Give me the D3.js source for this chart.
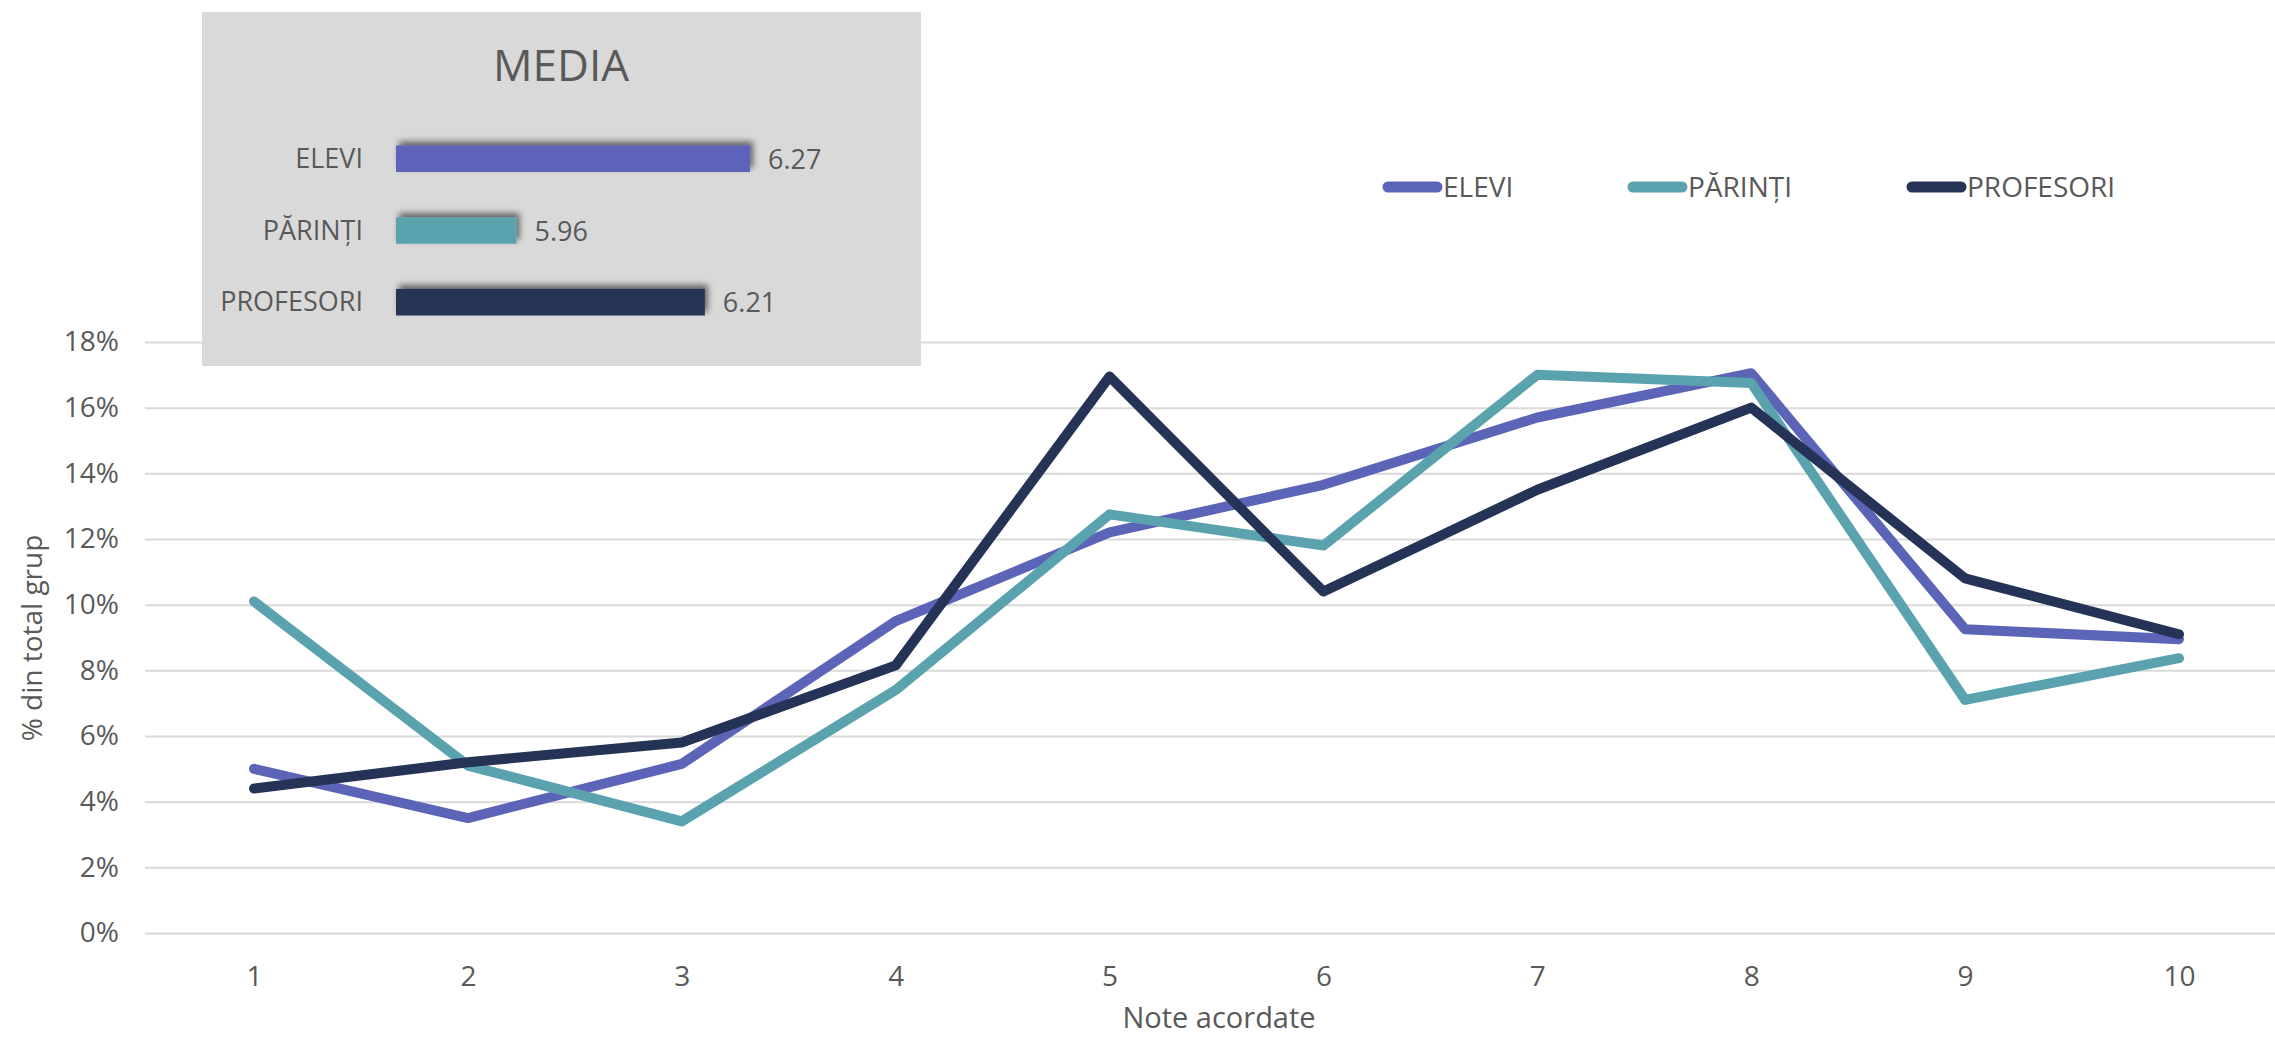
<!DOCTYPE html>
<html>
<head>
<meta charset="utf-8">
<script src="https://cdn.jsdelivr.net/npm/d3@7"></script>
<style>
  body { margin: 0; background: #fff; }
  text { font-family: "Open Sans", sans-serif; fill: #595959; }
</style>
</head>
<body>
<svg id="drawing_region"></svg>
<script>
// data
const note = ["1", "2", "3", "4", "5", "6", "7", "8", "9", "10"];
const elevi = [5.0, 3.5, 5.15, 9.5, 12.2, 13.65, 15.7, 17.05, 9.25, 8.95];
const parinti = [10.1, 5.1, 3.4, 7.4, 12.75, 11.8, 17.0, 16.75, 7.1, 8.37];
const profesori = [4.4, 5.2, 5.8, 8.15, 16.95, 10.4, 13.5, 16.0, 10.8, 9.1];
const seriesNames = ["ELEVI", "PĂRINȚI", "PROFESORI"];
const seriesColors = ["#5c64b8", "#5aa3ae", "#253456"];
const media = [6.27, 5.96, 6.21];
const yTicks = [0, 2, 4, 6, 8, 10, 12, 14, 16, 18];

const W = 2275, H = 1040;
const svg = d3.select('#drawing_region')
    .attr('width', W)
    .attr('height', H);

const defs = svg.append('defs');
const shadow = defs.append('filter').attr('id', 'shadow')
    .attr('x', '-10%').attr('y', '-60%').attr('width', '120%').attr('height', '220%');
shadow.append('feDropShadow')
    .attr('dx', 3).attr('dy', -4)
    .attr('stdDeviation', 3)
    .attr('flood-color', '#000')
    .attr('flood-opacity', 0.55);

// scales
const xscale = d3.scalePoint()
    .domain(note)
    .range([254, 2179]);
const yscale = d3.scaleLinear()
    .domain([0, 18])
    .range([933, 342]);

// y axis with gridlines
const yaxis = d3.axisLeft(yscale)
    .tickValues(yTicks)
    .tickFormat(d => d + '%')
    .tickSize(-(W - 145))
    .tickPadding(26);
const yaxis_group = svg.append('g')
    .attr('transform', 'translate(145,0)')
    .call(yaxis);
yaxis_group.select('.domain').remove();
yaxis_group.selectAll('line')
    .attr('stroke', '#d9d9d9')
    .attr('stroke-width', 2);
yaxis_group.selectAll('text')
    .style('font-size', '28px')
    .attr('font-family', null);

// x axis
const xaxis = d3.axisBottom(xscale)
    .tickSize(0)
    .tickPadding(33);
const xaxis_group = svg.append('g')
    .attr('transform', 'translate(0,933)')
    .call(xaxis);
xaxis_group.select('.domain').remove();
xaxis_group.selectAll('text')
    .style('font-size', '28px')
    .attr('font-family', null);

// axis titles
svg.append('text')
    .attr('transform', 'translate(42,638) rotate(-90)')
    .attr('text-anchor', 'middle')
    .style('font-size', '28px')
    .text('% din total grup');
svg.append('text')
    .attr('x', 1219)
    .attr('y', 1028)
    .attr('text-anchor', 'middle')
    .style('font-size', '29px')
    .text('Note acordate');

// lines
const allSeries = [elevi, parinti, profesori];
const line = d3.line()
    .x((d, i) => xscale(note[i]))
    .y(d => yscale(d));
svg.append('g').selectAll('path')
    .data(allSeries)
    .join('path')
    .attr('d', line)
    .attr('fill', 'none')
    .attr('stroke', (d, i) => seriesColors[i])
    .attr('stroke-width', 10)
    .attr('stroke-linecap', 'round')
    .attr('stroke-linejoin', 'round');

// legend
const legendX = [1383, 1628, 1907];
const legend = svg.append('g').selectAll('g')
    .data(seriesNames)
    .join('g')
    .attr('transform', (d, i) => `translate(${legendX[i]},187)`);
legend.append('line')
    .attr('x1', 5).attr('x2', 54)
    .attr('y1', 0).attr('y2', 0)
    .attr('stroke', (d, i) => seriesColors[i])
    .attr('stroke-width', 11)
    .attr('stroke-linecap', 'round');
legend.append('text')
    .attr('x', 60)
    .attr('y', 10)
    .style('font-size', '28px')
    .text(d => d);

// MEDIA box
const box = svg.append('g');
box.append('rect')
    .attr('x', 202).attr('y', 12)
    .attr('width', 719).attr('height', 354)
    .attr('fill', '#d9d9d9');
box.append('text')
    .attr('x', 561).attr('y', 81)
    .attr('text-anchor', 'middle')
    .style('font-size', '44px')
    .text('MEDIA');

const bxscale = d3.scaleLinear()
    .domain([5.8, 6.4])
    .range([396, 848]);
const byscale = d3.scaleBand()
    .domain(seriesNames)
    .range([124, 337])
    .paddingInner(0.63)
    .paddingOuter(0.3);

box.selectAll('rect.bar')
    .data(media)
    .join('rect')
    .attr('class', 'bar')
    .attr('x', bxscale(5.8))
    .attr('y', (d, i) => byscale(seriesNames[i]))
    .attr('width', d => bxscale(d) - bxscale(5.8))
    .attr('height', byscale.bandwidth())
    .attr('fill', (d, i) => seriesColors[i])
    .attr('filter', 'url(#shadow)');

box.selectAll('text.cat')
    .data(seriesNames)
    .join('text')
    .attr('class', 'cat')
    .attr('x', 363)
    .attr('y', d => byscale(d) + byscale.bandwidth() / 2 + 9)
    .attr('text-anchor', 'end')
    .style('font-size', '27px')
    .text(d => d);

box.selectAll('text.val')
    .data(media)
    .join('text')
    .attr('class', 'val')
    .attr('x', d => bxscale(d) + 18)
    .attr('y', (d, i) => byscale(seriesNames[i]) + byscale.bandwidth() / 2 + 10)
    .style('font-size', '27px')
    .text(d => d.toFixed(2));
</script>
</body>
</html>
